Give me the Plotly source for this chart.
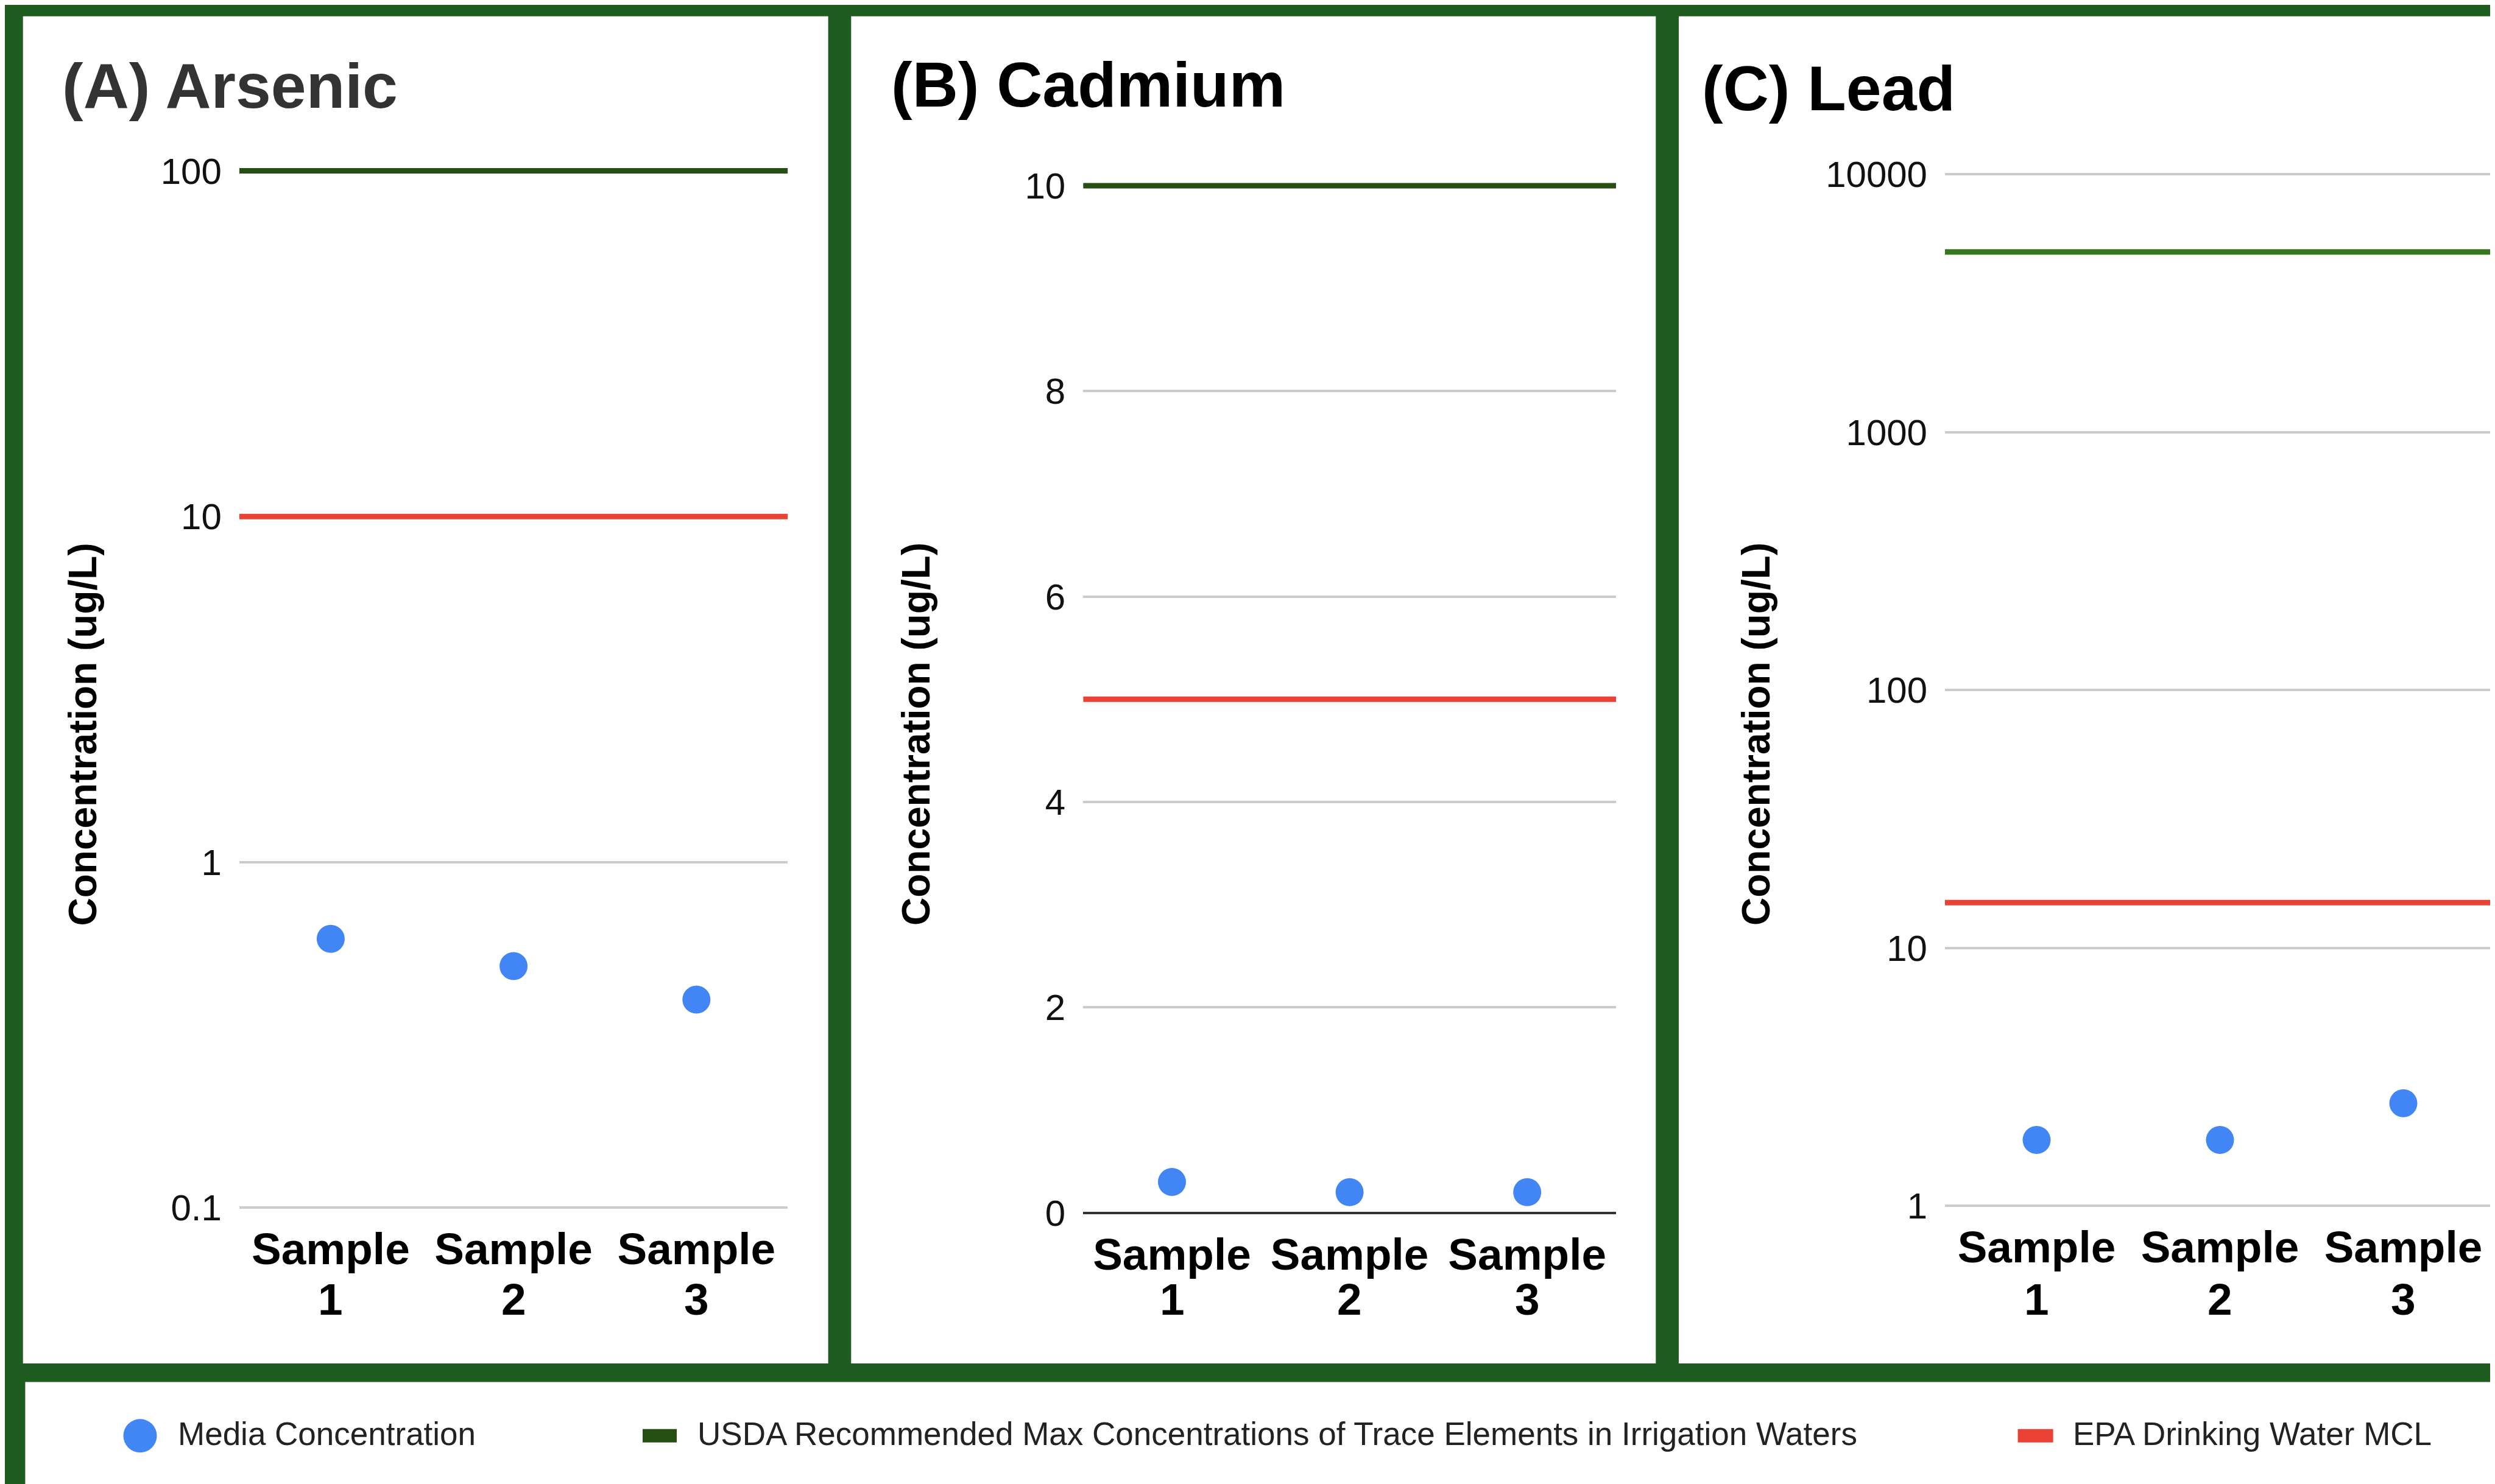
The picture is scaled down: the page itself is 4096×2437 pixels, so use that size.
import math
import plotly.graph_objects as go

W, H = 4096, 2437

# ---------------- data ----------------
samples = ["Sample 1", "Sample 2", "Sample 3"]

panel_titles = ["(A) Arsenic", "(B) Cadmium", "(C) Lead"]

arsenic_conc = [0.6, 0.5, 0.4]
cadmium_conc = [0.3, 0.2, 0.2]
lead_conc = [1.8, 1.8, 2.5]

usda_max = [100, 10, 5000]      # Arsenic, Cadmium, Lead
epa_mcl = [10, 5, 15]           # Arsenic, Cadmium, Lead

arsenic_ticks = [0.1, 1, 10, 100]
arsenic_ticklabels = ["0.1", "1", "10", "100"]
cadmium_ticks = [0, 2, 4, 6, 8, 10]
cadmium_ticklabels = ["0", "2", "4", "6", "8", "10"]
lead_ticks = [1, 10, 100, 1000, 10000]
lead_ticklabels = ["1", "10", "100", "1000", "10000"]

series_names = ["Media Concentration",
                "USDA Recommended Max Concentrations of Trace Elements in Irrigation Waters",
                "EPA Drinking Water MCL"]
y_title = "Concentration (ug/L)"

# ---------------- styles ----------------
BG = "#1e5c20"
BLUE = "#4285f4"
RED = "#ea4335"
GREEN_DARK = "#274e13"
GREEN_C = "#38761d"
FONT = "Liberation Sans, Arial, sans-serif"

OFF = 8.0  # page offset of the figure inside the window


def fx(px):
    return (px - OFF) / W


def fy(py):
    return 1 - (py - OFF) / H


# pixel layout (window px)
panel_x = [(37.7, 1359.6), (1397.3, 2718.3), (2756.0, W + OFF)]
panel_top, panel_bot = 26.7, 2239.0
plot_x = [(392.8, 1293.4), (1778.2, 2653.0), (3193.0, 4096.0)]
# (pixel of top tick, pixel of bottom tick)
plot_y = [(280.6, 1983.3), (305.1, 1991.6), (286.3, 1980.2)]
PAD = 14.0  # px added above/below the outer ticks

title_pos = [(100.0, 141.0, "#333333"), (1460.5, 138.6, "#000000"), (2791.5, 145.0, "#000000")]
ytitle_x = [135.5, 1504.0, 2883.0]
ytitle_y = 1206.0
num_label_y = 2133.0

concs = [arsenic_conc, cadmium_conc, lead_conc]
usda_colors = [GREEN_DARK, GREEN_DARK, GREEN_C]
axis_types = ["log", "linear", "log"]
ticks = [(arsenic_ticks, arsenic_ticklabels), (cadmium_ticks, cadmium_ticklabels),
         (lead_ticks, lead_ticklabels)]

n = len(samples)
idx = list(range(n))
x_span = [-0.5, n - 0.5]
sample_word = [s.rsplit(" ", 1)[0] for s in samples]
sample_num = [s.rsplit(" ", 1)[1] for s in samples]

fig = go.Figure()

for i in range(3):
    xa = "x" if i == 0 else f"x{i+1}"
    ya = "y" if i == 0 else f"y{i+1}"
    fig.add_trace(go.Scatter(
        x=x_span, y=[usda_max[i]] * 2, mode="lines", name=series_names[1],
        line=dict(color=usda_colors[i], width=9), xaxis=xa, yaxis=ya,
        showlegend=False, hoverinfo="skip"))
    fig.add_trace(go.Scatter(
        x=x_span, y=[epa_mcl[i]] * 2, mode="lines", name=series_names[2],
        line=dict(color=RED, width=9), xaxis=xa, yaxis=ya,
        showlegend=False, hoverinfo="skip"))
    fig.add_trace(go.Scatter(
        x=idx, y=concs[i], mode="markers", name=series_names[0],
        marker=dict(color=BLUE, size=46, line=dict(width=0)),
        xaxis=xa, yaxis=ya, showlegend=False))

shapes = []
annotations = []
layout_axes = {}

for i in range(3):
    # white panel
    x0, x1 = panel_x[i]
    shapes.append(dict(type="rect", xref="paper", yref="paper", layer="below",
                       x0=fx(x0), x1=fx(x1), y0=fy(panel_bot), y1=fy(panel_top),
                       fillcolor="white", line=dict(width=0)))
    xkey = "xaxis" if i == 0 else f"xaxis{i+1}"
    ykey = "yaxis" if i == 0 else f"yaxis{i+1}"
    xname = "x" if i == 0 else f"x{i+1}"
    yname = "y" if i == 0 else f"y{i+1}"
    layout_axes[xkey] = dict(
        domain=[fx(plot_x[i][0]), fx(plot_x[i][1])], anchor=yname,
        type="linear", range=x_span, tickvals=idx, ticktext=sample_word,
        showgrid=False, zeroline=False, showline=False, ticks="",
        automargin=False, ticklabelstandoff=5,
        tickfont=dict(family=FONT, size=73, color="#000000", weight="bold"),
        fixedrange=True)
    tv, tt = ticks[i]
    p_top, p_bot = plot_y[i]
    if axis_types[i] == "log":
        v_top, v_bot = math.log10(tv[-1]), math.log10(tv[0])
    else:
        v_top, v_bot = tv[-1], tv[0]
    upp = (v_top - v_bot) / (p_bot - p_top)
    rng = [v_bot - PAD * upp, v_top + PAD * upp]
    layout_axes[ykey] = dict(
        domain=[fy(p_bot + PAD), fy(p_top - PAD)], anchor=xname,
        type=axis_types[i], range=rng, tickvals=tv, ticktext=tt,
        showgrid=True, gridcolor="#cccccc", gridwidth=4,
        zeroline=(axis_types[i] == "linear"), zerolinecolor="#333333", zerolinewidth=4,
        showline=False, ticks="", ticklabelstandoff=28, automargin=False,
        tickfont=dict(family=FONT, size=60, color="#111111"),
        fixedrange=True)
    # second line of the category labels (sample number)
    for j in idx:
        annotations.append(dict(text=f"<b>{sample_num[j]}</b>", xref=xname, yref="paper",
                                x=j, y=fy(num_label_y), xanchor="center", yanchor="middle",
                                showarrow=False, borderpad=0,
                                font=dict(family=FONT, size=73, color="#000000")))
    # panel title
    tx, ty, tc = title_pos[i]
    annotations.append(dict(text=f"<b>{panel_titles[i]}</b>", xref="paper", yref="paper",
                            x=fx(tx), y=fy(ty), xanchor="left", yanchor="middle",
                            showarrow=False,
                            font=dict(family=FONT, size=104, color=tc)))
    # y title
    annotations.append(dict(text=f"<b>{y_title}</b>", xref="paper", yref="paper",
                            x=fx(ytitle_x[i]), y=fy(ytitle_y), xanchor="center",
                            yanchor="middle", textangle=-90, showarrow=False,
                            font=dict(family=FONT, size=64, color="#000000")))

# legend box
shapes.append(dict(type="rect", xref="paper", yref="paper", layer="below",
                   x0=fx(41.4), x1=1, y0=0, y1=fy(2269.5),
                   fillcolor="white", line=dict(width=0)))
# legend symbols
leg_cy = 2357.8
shapes.append(dict(type="circle", xref="paper", yref="paper",
                   x0=fx(230 - 27.5), x1=fx(230 + 27.5),
                   y0=fy(leg_cy + 27.5), y1=fy(leg_cy - 27.5),
                   fillcolor=BLUE, line=dict(width=0)))
shapes.append(dict(type="rect", xref="paper", yref="paper",
                   x0=fx(1055), x1=fx(1111), y0=fy(leg_cy + 11), y1=fy(leg_cy - 11),
                   fillcolor=GREEN_DARK, line=dict(width=0)))
shapes.append(dict(type="rect", xref="paper", yref="paper",
                   x0=fx(3312.6), x1=fx(3370.6), y0=fy(leg_cy + 11), y1=fy(leg_cy - 11),
                   fillcolor=RED, line=dict(width=0)))
leg_text_x = [290.0, 1143.0, 3401.0]
for name, lx in zip(series_names, leg_text_x):
    annotations.append(dict(text=name, xref="paper", yref="paper",
                            x=fx(lx), y=fy(2354), xanchor="left", yanchor="middle",
                            showarrow=False,
                            font=dict(family=FONT, size=53, color="#222222")))

fig.update_layout(
    width=W, height=H, autosize=False,
    margin=dict(l=0, r=0, t=0, b=0, pad=0, autoexpand=False),
    paper_bgcolor=BG, plot_bgcolor="white",
    showlegend=False,
    shapes=shapes, annotations=annotations,
    font=dict(family=FONT),
    **layout_axes)

fig.write_html("out.html")
